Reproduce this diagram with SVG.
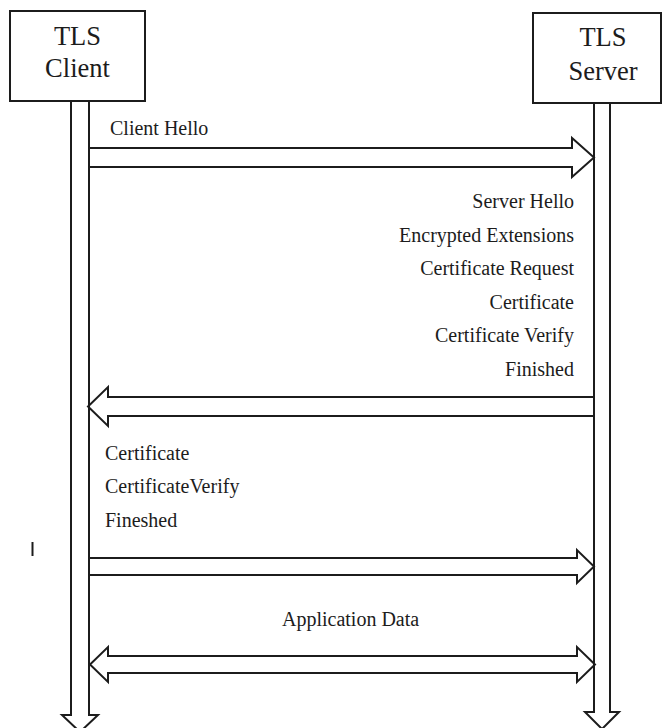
<svg xmlns="http://www.w3.org/2000/svg" width="663" height="728" viewBox="0 0 663 728">
  <style>
    .box { fill: #ffffff; stroke: #1c1c1c; stroke-width: 2; }
    .line { fill: none; stroke: #1c1c1c; stroke-width: 2; stroke-linejoin: miter; }
    .title { font-family: "Liberation Serif", "DejaVu Serif", serif; font-size: 26.5px; fill: #1c1c1c; text-anchor: middle; }
    .msg { font-family: "Liberation Serif", "DejaVu Serif", serif; font-size: 20px; fill: #1c1c1c; }
    .end { text-anchor: end; }
  </style>
  <rect width="663" height="728" fill="#ffffff"/>

  <!-- TLS client with its hollow lifeline -->
  <g id="client">
    <rect class="box" x="10" y="11" width="135" height="90"/>
    <text class="title" x="77.5" y="45">TLS</text>
    <text class="title" x="77.5" y="77">Client</text>
    <path class="line" d="M71,101 V715 H62 L80,732 L98,715 H89 V101"/>
  </g>

  <!-- TLS server with its hollow lifeline -->
  <g id="server">
    <rect class="box" x="533" y="13" width="128" height="90"/>
    <text class="title" x="603" y="46">TLS</text>
    <text class="title" x="603" y="80">Server</text>
    <path class="line" d="M594,103 V712 H585 L602,729 L619,712 H610 V103"/>
  </g>

  <!-- Handshake messages -->
  <g id="connectors">
    <!-- Client Hello -->
    <path class="line" d="M89,148 H572 V138 L594,157.5 L572,177 V167 H89"/>
    <!-- Server flight -->
    <path class="line" d="M594,397 H108 V387 L88,406.5 L108,426 V416 H594"/>
    <!-- Client flight -->
    <path class="line" d="M89,558 H577 V550 L594,566.5 L577,583 V575 H89"/>
    <!-- Application data, both directions -->
    <path class="line" d="M108,656 H577 V647 L595,664.5 L577,682 V673 H108 V682 L90,664.5 L108,647 Z"/>
  </g>

  <g id="labels">
    <text class="msg" x="110" y="135">Client Hello</text>
    <text class="msg end" x="574" y="208">Server Hello</text>
    <text class="msg end" x="574" y="242">Encrypted Extensions</text>
    <text class="msg end" x="574" y="275">Certificate Request</text>
    <text class="msg end" x="574" y="309">Certificate</text>
    <text class="msg end" x="574" y="342">Certificate Verify</text>
    <text class="msg end" x="574" y="376">Finished</text>
    <text class="msg" x="105" y="460">Certificate</text>
    <text class="msg" x="105" y="493">CertificateVerify</text>
    <text class="msg" x="105" y="527">Fineshed</text>
    <text class="msg" x="282" y="626">Application Data</text>
  </g>

  <!-- small stray tick left of the client lifeline -->
  <line class="line" x1="32.5" y1="542" x2="32.5" y2="556" stroke-width="1.5"/>
</svg>
